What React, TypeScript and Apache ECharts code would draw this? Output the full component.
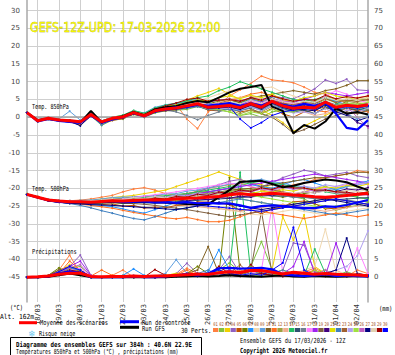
import React, { useEffect, useRef } from 'react';
import * as echarts from 'echarts';

const TIMES = ['17/03 12', '18/03 00', '18/03 12', '19/03 00', '19/03 12', '20/03 00', '20/03 12', '21/03 00', '21/03 12', '22/03 00', '22/03 12', '23/03 00', '23/03 12', '24/03 00', '24/03 12', '25/03 00', '25/03 12', '26/03 00', '26/03 12', '27/03 00', '27/03 12', '28/03 00', '28/03 12', '29/03 00', '29/03 12', '30/03 00', '30/03 12', '31/03 00', '31/03 12', '01/04 00', '01/04 12', '02/04 00', '02/04 12'];

const LEFT_TICKS = [-45, -40, -35, -30, -25, -20, -15, -10, -5, 0, 5, 10, 15, 20, 25, 30];
const RIGHT_TICKS = [0, 5, 10, 15, 20, 25, 30, 35, 40, 45, 50, 55, 60, 65, 70, 75];
const ZERO_LINE = [0];

const T850_MEAN = [1.3, -1.0, -0.3, -0.8, -1.0, -1.3, 0.8, -1.3, -0.3, 0.1, 1.3, 0.4, 1.8, 2.3, 2.6, 3.2, 3.8, 2.8, 3.0, 3.3, 2.7, 3.8, 2.8, 4.5, 3.2, 2.5, 2.8, 2.6, 4.3, 2.8, 3.4, 3.0, 3.5];
const T850_CTRL = [1.3, -1.2, -0.5, -1.0, -1.3, -1.6, 0.5, -1.5, -0.6, 0.0, 1.2, 0.3, 1.6, 2.4, 2.8, 3.0, 3.5, 3.3, 3.6, 4.0, 3.2, 3.9, 3.3, 4.4, 3.5, 3.0, 3.8, 3.2, 4.2, 1.0, -3.0, -3.5, -0.8];
const T850_GFS = [1.3, -0.8, -0.5, -0.9, -1.2, -1.5, 1.8, -1.4, -0.5, 0.3, 1.5, 0.6, 2.2, 2.8, 3.2, 4.0, 4.6, 4.2, 5.5, 7.0, 8.0, 8.5, 9.1, 3.0, 1.8, -4.5, -2.2, -3.2, -1.2, 2.5, 1.0, 1.5, 0.8];

const T850_PERTS: number[][] = [
  [1.2, -0.9, -0.2, -0.6, -0.9, -1.5, 0.6, -1.0, 0.0, 0.5, 1.6, 0.9, 2.4, 3.0, 3.6, -0.5, -3.2, 1.5, 3.5, 6.0, 7.7, 9.5, 11.6, 10.5, 10.2, 9.7, 8.5, 7.0, 6.5, 5.0, 4.2, 5.5, 6.0],
  [1.4, -1.1, -0.4, -0.9, -1.2, -1.6, 0.4, -2.3, -0.8, -0.5, 0.8, 0.0, 1.2, 1.8, 2.0, 2.2, 3.0, 2.5, 2.0, 1.5, 0.5, 1.0, 0.0, 1.5, 2.0, 1.8, 2.5, 3.5, 5.0, 4.5, 3.0, 2.0, 2.5],
  [1.3, -1.0, -0.1, -0.7, -0.8, -1.1, 1.0, -1.2, -0.1, 0.4, 1.5, 0.8, 2.2, 3.0, 3.5, 4.8, 6.0, 7.0, 8.1, 6.5, 5.0, 4.0, 2.0, 0.5, -1.5, -4.0, -2.5, -1.0, 0.5, 2.0, 3.5, 4.0, 3.0],
  [1.3, -0.8, -0.3, -0.8, -1.1, -1.2, 0.9, -1.4, -0.4, 0.2, 1.4, 0.5, 2.0, 2.6, 3.0, 3.8, 4.5, 4.2, 4.8, 5.2, 4.6, 5.5, 5.0, 6.0, 5.5, 5.2, 6.5, 8.0, 10.5, 9.5, 10.7, 7.7, 7.5],
  [1.2, -1.2, -0.5, -1.0, -1.3, -2.2, 0.3, -1.8, -0.9, -0.4, 0.9, 0.1, 1.5, 1.9, 2.2, 2.8, 3.2, 2.0, 1.8, 2.5, 1.5, 2.0, 1.0, 2.5, 1.0, 0.0, 1.5, 2.0, 3.0, 1.5, 2.5, 1.8, 2.2],
  [1.3, -1.0, -0.2, -0.7, -1.0, -1.3, 0.7, -1.2, -0.2, 0.3, 1.2, 0.6, 1.9, 2.5, 2.9, 3.5, 4.2, 3.8, 4.5, 5.0, 4.0, 5.2, 4.5, 5.5, 4.0, 3.0, 2.0, 1.0, 2.5, 3.0, 4.5, 5.0, 4.8],
  [1.3, -1.1, -0.4, -0.9, -0.8, -1.0, 1.1, -1.0, 0.0, 0.4, 1.7, 1.0, 2.5, 3.3, 3.8, 4.5, 5.0, 4.0, 3.5, 4.2, 3.8, 5.0, 4.2, 5.8, 5.0, 4.5, 5.5, 4.0, 5.5, 4.5, 3.5, 2.5, 1.5],
  [1.2, -0.9, -0.3, -0.8, -1.0, -1.4, 0.6, -1.3, -0.3, 0.0, 1.1, 0.3, 1.7, 2.2, 2.7, 3.6, 4.5, 5.5, 6.5, 7.5, 8.0, 8.6, 8.2, 8.5, 7.0, 6.0, 5.0, 4.5, 5.0, 4.0, 3.5, 4.0, 4.5],
  [1.4, -0.7, 0.0, -0.5, 1.7, -0.8, 1.2, -1.1, -0.2, 0.5, 1.8, 1.2, 2.8, 3.5, 4.0, 4.2, 4.8, 3.0, 2.5, 3.0, 2.2, 3.5, 2.5, 4.0, 3.0, 2.0, 3.0, 2.5, 4.0, 2.0, 1.0, -0.5, 0.5],
  [1.3, -1.0, -0.3, -0.8, -1.1, -1.4, 0.7, -1.3, -0.4, 0.1, 1.3, 0.5, 1.8, 2.4, 2.8, 3.4, 4.0, 3.5, 4.0, 4.8, 4.2, 5.5, 6.0, 6.5, 7.0, 7.5, 7.0, 6.5, 7.5, 8.0, 9.0, 10.3, 10.3],
  [1.2, -1.1, -0.4, -0.9, -1.2, -1.5, 0.5, -1.5, -0.5, -0.2, 1.0, 0.2, 1.6, 2.0, 2.4, 3.0, 3.5, 3.0, 3.8, 4.5, 5.5, 6.5, 7.0, 6.0, 5.0, 4.0, 3.0, 2.0, 1.5, 2.5, 3.0, 2.0, 1.5],
  [1.3, -0.9, -0.2, -0.7, -0.9, -1.2, 0.8, -1.2, -0.2, 0.2, 1.4, 0.6, 2.0, 2.6, 3.1, 3.9, 4.4, 3.2, 2.8, 2.0, 1.0, 2.0, 1.5, 3.0, 2.5, 2.0, 3.5, 4.5, 6.0, 5.0, 4.5, 4.0, 3.5],
  [1.3, -1.0, -0.3, -0.8, -1.0, -1.3, 0.8, -1.2, -0.3, 0.2, 1.3, 0.4, 1.9, 2.4, 2.6, 3.0, 3.6, 3.3, 4.2, 5.0, 5.5, 6.0, 5.0, 4.5, 3.5, 2.5, 1.5, 0.5, 1.0, 2.0, 2.5, 3.0, 3.8],
  [1.4, -0.8, -0.1, -0.6, -0.9, -1.2, 1.0, -1.1, 0.0, 0.6, 1.9, 1.1, 2.6, 3.4, 3.9, 4.6, 5.5, 6.0, 7.5, 8.5, 10.0, 9.0, 8.0, 7.0, 6.0, 5.0, 4.5, 5.0, 5.5, 4.0, 3.0, 2.5, 2.0],
  [1.2, -1.1, -0.4, -0.9, -1.1, -1.4, 0.6, -1.4, -0.5, -0.1, 1.1, 0.2, 1.6, 2.1, 2.3, 2.8, 3.4, 2.6, 2.9, 3.2, 2.5, 3.2, 2.2, 3.8, 2.5, 1.5, 2.0, 1.0, 2.8, 1.8, 2.6, 2.0, 2.8],
  [1.3, -1.0, -0.3, -0.8, -1.0, -1.3, 0.7, -1.3, -0.4, 0.0, 1.2, 0.3, 1.6, 2.0, 1.5, 0.5, -0.7, 0.5, 1.5, 2.5, 2.0, 3.0, 2.5, 3.5, 3.0, 2.8, 3.2, 3.0, 4.5, 3.5, 4.0, 3.5, 4.0],
  [1.3, -0.9, -0.2, -0.8, -1.0, -1.2, 0.9, -1.2, -0.2, 0.3, 1.5, 0.6, 2.1, 2.7, 3.2, 3.7, 4.2, 3.6, 3.8, 4.0, 3.5, 4.5, 3.8, 5.0, 4.2, 3.8, 4.0, 3.5, 6.0, 7.5, 6.5, 5.0, 4.0],
  [1.2, -1.0, -0.3, -0.8, -1.0, -1.4, 0.6, -1.4, -0.4, 0.0, 1.2, 0.3, 1.7, 2.2, 2.5, 3.0, 3.6, 2.9, 3.4, 3.9, 3.5, 4.8, 4.2, 5.2, 4.5, 4.2, 5.0, 6.0, 7.0, 6.5, 6.0, 6.5, 7.0],
  [1.3, -1.1, -0.4, -0.9, -1.2, -1.5, 0.5, -1.6, -0.6, -0.3, 0.9, 0.0, 1.4, 1.8, 2.1, 2.6, 3.1, 2.3, 2.5, 2.8, 2.0, 2.5, 1.0, 0.0, -2.0, -4.5, -3.5, -2.0, -0.5, 0.5, 1.5, 1.0, 2.0],
  [1.3, -1.0, -0.3, -0.8, -1.0, -1.3, 0.8, -1.3, -0.3, 0.1, 1.3, 0.5, 1.8, 2.3, 2.7, 3.3, 3.9, 3.0, 3.3, 3.6, 3.0, 4.0, 3.2, 4.6, 3.6, 3.0, 3.5, 3.0, 4.0, 2.5, 1.0, -1.5, -2.5],
  [1.4, -0.9, -0.2, -0.7, -0.9, -1.1, 1.0, -1.1, -0.1, 0.4, 1.6, 0.8, 2.3, 2.9, 3.4, 4.2, 4.9, 4.5, 5.5, 6.0, 5.2, 6.2, 5.5, 6.5, 5.0, 4.5, 5.5, 6.0, 7.0, 6.0, 5.5, 5.0, 5.5],
  [1.2, -1.1, -0.4, -0.9, -1.1, -1.4, 0.6, -2.2, -0.5, -0.1, 1.0, 0.2, 1.5, 2.0, 2.2, 2.6, 3.0, 2.2, 2.0, 2.2, 1.8, 2.8, 2.0, 3.2, 2.5, 2.2, 2.6, 2.2, 3.5, 2.2, 2.8, 2.5, 3.0],
  [1.3, -1.0, -0.3, -0.8, -1.0, -1.3, 0.7, -1.3, -0.3, 0.1, 1.3, 0.4, 1.8, 2.3, 2.6, 3.2, 3.8, 3.2, 3.6, 4.0, 3.3, 4.2, 3.5, 4.8, 4.0, 3.5, 4.2, 3.8, 5.2, 4.2, 4.8, 4.4, 5.0],
  [1.3, -0.9, -0.2, -0.7, -1.0, -1.2, 0.9, -1.2, -0.2, 0.2, 1.4, 0.5, 2.0, 2.5, 2.8, 3.3, 3.7, 2.6, 2.4, 2.6, 2.0, 3.0, 1.8, 3.2, 2.0, 1.2, 1.5, 1.0, 2.5, 1.0, 2.0, 1.5, 2.5],
  [1.2, -1.0, -0.4, -0.9, -1.1, -1.4, 0.6, -1.5, -0.5, -0.1, 1.1, 0.3, 1.6, 2.1, 2.4, 2.9, 3.3, 2.4, 2.2, 1.5, 0.5, 1.5, 1.0, 2.2, 1.5, 1.5, 2.5, 2.8, 3.8, 3.2, 4.0, 3.6, 4.2],
  [1.3, -1.0, -0.3, -0.8, -1.0, -1.3, 0.8, -1.3, -0.3, 0.1, 1.3, 0.4, 1.8, 2.3, 2.6, 3.1, 3.6, 2.7, 2.9, 3.2, 2.6, 3.6, 2.6, 4.2, 3.0, 2.3, 2.6, 2.4, 4.0, 2.6, 3.0, 0.0, -3.0],
  [1.3, -1.1, -0.4, -0.9, -1.1, -2.4, 0.5, -1.5, -0.5, -0.2, 1.0, 0.2, 1.5, 2.0, 2.3, 2.8, 3.5, 2.5, 2.6, 2.9, 2.2, 3.4, 2.4, 4.0, 2.8, 2.0, 2.2, 1.8, 3.5, 1.5, 0.5, -1.0, 0.0],
  [1.3, -0.9, -0.2, -0.7, -0.9, -1.2, 0.9, -1.2, -0.2, 0.2, 1.4, 0.6, 2.0, 2.5, 3.0, 3.6, 4.2, 3.5, 3.8, 4.3, 3.8, 4.8, 4.0, 5.2, 4.4, 4.0, 4.5, 4.2, 5.5, 4.8, 5.2, 5.0, 5.5],
  [1.3, -1.0, -0.2, -0.7, -0.9, -1.2, 0.8, -1.2, -0.2, 0.3, 1.5, 0.7, 2.3, 3.2, 4.0, 5.0, 5.4, 4.5, 4.8, 5.0, 4.5, 5.5, 4.8, 6.0, 5.2, 4.5, 5.0, 4.8, 6.2, 5.2, 5.8, 5.4, 6.0],
  [1.2, -1.0, -0.3, -0.8, -1.0, -1.4, 0.7, -1.4, -0.4, 0.0, 1.2, 0.3, 1.7, 2.1, 2.4, 2.9, 3.4, 2.6, 2.8, 3.0, -0.5, -3.0, -1.5, 0.5, 1.5, 2.0, 2.5, 2.2, 3.8, 2.4, 3.0, 2.6, 3.2],
];

const T500_MEAN = [-21.7, -22.5, -23.3, -23.6, -23.8, -23.8, -23.9, -23.7, -23.5, -23.6, -23.4, -23.3, -23.3, -23.2, -23.0, -22.8, -22.7, -22.5, -22.3, -21.8, -21.5, -21.8, -21.7, -21.4, -21.6, -21.9, -22.1, -22.4, -22.5, -22.3, -22.0, -21.7, -21.4];
const T500_CTRL = [-21.8, -22.6, -23.4, -23.8, -24.0, -23.8, -24.0, -23.8, -23.6, -23.9, -23.8, -23.7, -24.0, -23.9, -24.1, -23.9, -24.2, -24.1, -24.3, -24.2, -24.8, -25.5, -25.0, -24.8, -25.0, -25.3, -25.6, -25.6, -25.1, -25.2, -24.7, -24.0, -23.3];
const T500_GFS = [-21.7, -22.5, -23.4, -23.8, -24.0, -24.0, -24.1, -23.9, -23.8, -24.0, -23.9, -23.8, -23.9, -24.0, -24.2, -24.4, -24.5, -24.5, -22.5, -20.5, -18.2, -18.0, -17.9, -18.8, -19.7, -19.3, -18.5, -18.0, -17.5, -17.8, -18.3, -19.5, -20.5];

const T500_PERTS: number[][] = [
  [-21.8, -22.4, -23.2, -23.4, -23.5, -23.3, -23.0, -22.5, -22.0, -21.0, -20.2, -19.8, -20.5, -21.5, -22.0, -21.5, -20.8, -20.0, -19.5, -19.0, -18.5, -19.5, -20.5, -21.0, -20.0, -19.0, -18.5, -17.5, -17.0, -16.5, -16.0, -15.0, -15.5],
  [-21.7, -22.6, -23.4, -23.8, -24.0, -24.2, -24.3, -24.0, -23.8, -24.3, -23.6, -23.9, -23.0, -22.8, -21.8, -21.9, -20.8, -20.9, -21.3, -21.0, -20.3, -20.5, -19.5, -20.6, -21.0, -22.4, -23.0, -24.5, -25.0, -26.2, -25.3, -24.8, -24.0],
  [-21.6, -22.4, -23.2, -23.5, -23.6, -23.5, -23.4, -23.0, -22.6, -22.3, -22.0, -21.5, -21.0, -20.5, -19.5, -18.5, -17.5, -16.5, -15.4, -16.5, -17.5, -18.5, -19.0, -20.0, -21.0, -22.0, -21.0, -20.0, -19.5, -20.5, -21.5, -22.5, -23.0],
  [-21.7, -22.5, -23.3, -23.6, -23.9, -24.0, -24.1, -23.9, -23.6, -23.5, -23.2, -23.0, -22.7, -22.4, -22.0, -21.5, -21.0, -20.0, -19.0, -18.0, -17.5, -18.5, -19.5, -18.5, -17.0, -16.0, -14.9, -15.5, -16.5, -16.0, -15.5, -16.5, -17.0],
  [-21.8, -22.6, -23.4, -23.7, -24.0, -24.1, -24.3, -24.6, -24.4, -25.0, -24.8, -25.6, -25.3, -25.5, -24.8, -24.8, -23.8, -23.9, -24.2, -24.6, -26.2, -26.0, -27.2, -25.8, -25.2, -23.8, -23.6, -24.3, -25.8, -25.6, -25.3, -23.8, -23.6],
  [-21.7, -22.5, -23.2, -23.5, -23.7, -23.6, -23.6, -23.4, -23.0, -22.8, -22.5, -22.3, -22.0, -22.3, -22.6, -22.0, -21.5, -21.0, -20.5, -20.0, -20.5, -21.0, -21.5, -22.0, -22.5, -22.0, -21.5, -21.0, -20.5, -21.0, -21.5, -22.0, -21.5],
  [-21.8, -22.6, -23.4, -23.8, -24.1, -24.3, -24.6, -24.8, -25.2, -25.8, -26.5, -27.0, -26.0, -25.0, -24.0, -23.0, -22.0, -21.0, -20.5, -20.0, -19.5, -19.0, -19.5, -20.0, -19.0, -18.0, -17.5, -18.5, -19.5, -20.5, -19.5, -18.5, -18.0],
  [-21.7, -22.5, -23.3, -23.7, -23.9, -23.9, -24.0, -23.8, -23.6, -23.9, -23.6, -23.8, -23.6, -24.1, -24.0, -24.6, -24.6, -25.3, -25.5, -26.3, -26.5, -27.3, -27.5, -27.0, -26.5, -26.0, -26.5, -27.0, -27.5, -27.0, -26.5, -26.0, -25.5],
  [-21.6, -22.4, -23.1, -23.4, -23.5, -23.4, -23.3, -23.0, -22.6, -22.5, -22.4, -22.2, -22.0, -21.6, -21.5, -20.8, -20.5, -19.8, -19.5, -18.8, -18.5, -17.8, -17.5, -18.2, -18.5, -19.3, -19.5, -20.3, -20.5, -20.0, -19.5, -19.0, -18.5],
  [-21.7, -22.5, -23.3, -23.6, -23.8, -23.8, -23.9, -23.8, -23.6, -23.7, -23.5, -23.4, -23.3, -23.0, -22.6, -22.2, -21.8, -21.4, -21.0, -20.6, -20.2, -20.0, -19.5, -19.0, -18.5, -18.0, -17.5, -17.0, -17.0, -16.5, -16.0, -15.5, -15.5],
  [-21.8, -22.6, -23.5, -23.9, -24.2, -24.5, -24.8, -25.2, -25.6, -26.2, -26.8, -27.3, -27.8, -28.3, -28.6, -28.2, -28.8, -29.4, -29.4, -29.0, -28.0, -27.0, -26.5, -27.0, -27.5, -28.0, -28.5, -28.0, -27.5, -27.0, -27.5, -28.0, -27.5],
  [-21.7, -22.4, -23.2, -23.5, -23.7, -23.7, -23.8, -23.6, -23.4, -23.3, -23.1, -22.9, -22.6, -22.2, -21.8, -21.5, -21.2, -21.5, -22.0, -22.5, -23.0, -23.5, -24.0, -24.5, -25.0, -24.5, -24.0, -23.5, -23.0, -22.5, -22.0, -21.5, -21.0],
  [-21.7, -22.5, -23.3, -23.6, -23.8, -23.9, -24.0, -23.9, -23.8, -23.9, -23.8, -23.8, -23.9, -24.2, -24.5, -24.8, -25.2, -25.5, -25.8, -26.0, -26.5, -26.0, -25.5, -25.0, -24.5, -25.0, -25.5, -26.0, -26.5, -26.0, -25.5, -25.0, -24.5],
  [-21.6, -22.4, -23.2, -23.5, -23.7, -23.6, -23.5, -23.3, -23.1, -23.0, -22.8, -22.6, -22.4, -22.1, -21.8, -21.5, -21.0, -20.5, -20.0, -19.5, -19.0, -18.5, -18.0, -18.5, -19.0, -19.5, -20.0, -20.5, -21.0, -21.5, -22.0, -22.5, -23.0],
  [-21.7, -22.5, -23.3, -23.7, -23.9, -24.0, -24.1, -24.0, -23.9, -24.0, -24.0, -24.1, -24.2, -24.0, -23.8, -23.6, -23.4, -23.2, -23.0, -22.8, -22.6, -22.4, -22.2, -22.0, -22.2, -22.4, -22.6, -22.8, -23.0, -23.2, -23.0, -22.8, -22.6],
  [-21.8, -22.6, -23.4, -23.7, -23.9, -24.0, -24.0, -23.8, -23.5, -23.6, -23.0, -23.2, -22.5, -22.6, -22.0, -22.2, -21.6, -21.8, -21.2, -21.4, -21.2, -21.9, -21.6, -22.3, -22.0, -22.6, -22.4, -23.0, -22.8, -23.4, -23.2, -23.8, -23.6],
  [-21.7, -22.5, -23.3, -23.6, -23.8, -23.8, -23.7, -23.5, -23.2, -23.0, -22.6, -22.2, -21.8, -21.4, -21.0, -20.5, -20.0, -19.5, -19.0, -18.5, -19.0, -19.5, -20.0, -20.5, -21.0, -21.5, -21.0, -20.5, -20.0, -19.5, -19.0, -18.5, -19.0],
  [-21.7, -22.5, -23.4, -23.8, -24.0, -24.1, -24.2, -24.1, -24.0, -23.9, -23.7, -23.5, -23.2, -22.8, -22.4, -22.0, -21.5, -21.0, -20.5, -20.0, -19.5, -19.0, -18.5, -18.0, -17.5, -17.0, -16.5, -16.0, -16.5, -17.0, -17.5, -18.0, -18.5],
  [-21.8, -22.6, -23.4, -23.8, -24.1, -24.2, -24.3, -24.2, -24.1, -24.2, -24.3, -24.5, -24.8, -25.2, -25.6, -26.0, -26.5, -27.0, -27.5, -28.0, -27.5, -27.0, -26.5, -26.0, -25.5, -25.0, -24.5, -24.0, -23.5, -23.0, -23.5, -24.0, -24.5],
  [-21.7, -22.5, -23.3, -23.6, -23.8, -23.9, -24.0, -23.9, -23.7, -24.1, -23.7, -24.0, -23.5, -23.8, -23.3, -23.6, -23.0, -23.2, -22.6, -22.8, -22.2, -22.5, -21.8, -22.0, -21.4, -21.7, -21.0, -21.3, -20.6, -20.9, -20.2, -20.5, -19.8],
  [-21.6, -22.4, -23.2, -23.5, -23.7, -23.7, -23.6, -23.4, -23.2, -23.5, -23.0, -23.3, -22.8, -22.9, -22.4, -22.6, -22.0, -22.3, -21.6, -21.8, -21.2, -21.5, -20.8, -21.2, -20.4, -20.8, -20.0, -20.4, -19.6, -19.9, -19.2, -19.5, -18.8],
  [-21.8, -22.6, -23.5, -23.9, -24.3, -24.8, -25.5, -26.3, -27.0, -27.8, -28.5, -28.9, -28.0, -27.0, -26.0, -25.5, -25.0, -24.5, -24.0, -23.5, -23.0, -23.5, -24.0, -24.5, -25.0, -25.5, -26.0, -26.5, -27.0, -27.5, -27.0, -26.5, -26.0],
  [-21.7, -22.5, -23.3, -23.6, -23.8, -23.8, -23.9, -23.7, -23.5, -23.6, -23.4, -23.3, -23.3, -23.2, -23.0, -22.8, -22.7, -22.5, -22.0, -21.5, -21.0, -20.5, -20.0, -20.5, -21.0, -21.5, -22.0, -22.5, -23.0, -22.5, -22.0, -21.5, -21.0],
  [-21.7, -22.5, -23.2, -23.5, -23.6, -23.6, -23.5, -23.3, -23.0, -23.2, -22.6, -22.9, -22.2, -22.5, -21.8, -22.1, -21.4, -21.8, -21.0, -21.5, -20.6, -21.0, -20.2, -20.6, -19.8, -20.3, -19.4, -19.9, -19.0, -19.5, -18.6, -19.0, -18.2],
  [-21.7, -22.5, -23.4, -23.7, -24.0, -24.1, -24.2, -24.1, -24.0, -24.1, -24.0, -23.9, -23.8, -23.6, -23.4, -23.0, -22.5, -22.0, -21.5, -21.0, -21.5, -22.0, -22.5, -23.0, -23.5, -24.0, -24.5, -25.0, -25.5, -25.0, -24.5, -24.0, -23.5],
  [-21.7, -22.4, -23.2, -23.5, -23.7, -23.7, -23.7, -23.5, -23.3, -23.6, -23.1, -23.4, -22.9, -23.1, -22.5, -22.7, -21.9, -22.2, -21.3, -21.6, -20.7, -21.0, -20.1, -20.5, -19.5, -20.2, -20.1, -20.8, -20.7, -21.3, -21.3, -21.9, -21.9],
  [-21.8, -22.6, -23.5, -23.9, -24.2, -24.4, -24.6, -24.7, -24.8, -25.0, -25.2, -25.4, -25.6, -25.8, -26.0, -25.5, -25.0, -24.5, -24.0, -24.5, -25.0, -25.5, -26.0, -25.5, -25.0, -24.5, -24.0, -23.5, -23.0, -23.5, -24.0, -24.5, -25.0],
  [-21.7, -22.5, -23.3, -23.6, -23.8, -23.7, -23.6, -23.3, -23.0, -23.2, -22.6, -22.9, -22.4, -22.7, -22.2, -22.5, -22.0, -22.3, -21.8, -22.1, -21.6, -21.9, -21.4, -21.7, -21.2, -21.5, -21.0, -21.3, -20.8, -21.1, -20.6, -20.9, -20.4],
  [-21.7, -22.5, -23.3, -23.6, -23.8, -23.8, -23.9, -23.7, -23.5, -23.7, -23.2, -23.4, -22.8, -23.0, -22.3, -22.5, -21.7, -22.0, -21.1, -21.4, -20.5, -20.9, -19.9, -20.3, -19.3, -19.9, -19.9, -20.5, -20.5, -21.0, -21.1, -21.5, -21.7],
  [-21.8, -22.6, -23.4, -23.8, -24.0, -24.0, -24.1, -23.9, -23.7, -23.8, -23.7, -23.7, -23.8, -24.0, -24.2, -24.5, -24.8, -25.0, -25.3, -25.6, -25.9, -26.2, -26.5, -26.0, -25.5, -25.0, -24.5, -24.0, -23.5, -23.0, -23.5, -24.0, -24.5],
];

const PREC_MEAN = [0, 0.1, 0.3, 0.8, 1.1, 1.1, 0.2, 0.1, 0.2, 0.2, 0.3, 0.2, 0.3, 0.3, 0.5, 0.7, 0.8, 0.8, 1.2, 1.5, 1.3, 1.9, 1.9, 1.4, 0.9, 1.4, 1.1, 0.8, 1.0, 0.8, 0.7, 0.6, 0.4];
const PREC_CTRL = [0, 0, 0.2, 1.0, 1.6, 1.2, 0, 0, 0, 0, 0.2, 0, 0, 0.2, 0.5, 0.8, 0.5, 1.0, 2.5, 2.6, 2.4, 2.5, 2.6, 2.2, 0.8, 0.5, 0.3, 0.5, 0.8, 0.3, 0.5, 0.3, 0.2];
const PREC_GFS = [0, 0, 0.1, 0.5, 1.0, 0.5, 0, 0, 0, 0, 0, 0, 0, 0, 0.1, 0.2, 0.3, 0.2, 0.3, 0.5, 0.3, 0.2, 0.1, 0.3, 0.5, 0.2, 0.1, 0.3, 0.2, 0.1, 0.2, 0.3, 0.2];

const PREC_PERTS: number[][] = [
  [0, 0, 0.5, 2.0, 6.2, 1.0, 0.2, 0, 0.5, 2.0, 0, 0, 0, 0.3, 0.8, 2.5, 1.0, 0.5, 1.5, 3.0, 1.0, 0.5, 2.0, 1.0, 0.5, 0.3, 1.5, 2.5, 1.0, 0.5, 0.2, 2.0, 1.0],
  [0, 0, 0.2, 1.0, 2.5, 3.0, 0.5, 0, 0, 0, 0.3, 0, 0, 0, 0.5, 1.0, 0.5, 1.0, 2.0, 4.0, 1.5, 3.0, 10.0, 2.0, 1.0, 0.5, 0.5, 1.0, 2.0, 0.5, 1.5, 0.5, 0.3],
  [0, 0, 0.3, 1.5, 3.5, 2.0, 0, 0, 0, 0.5, 0, 0, 0, 0.5, 1.0, 0.5, 0.3, 0.5, 1.0, 0.5, 0.3, 0.5, 1.0, 2.0, 17.0, 10.4, 17.5, 3.0, 1.0, 0.5, 0.3, 0.5, 0.2],
  [0, 0, 0.2, 1.0, 3.0, 6.2, 0.5, 0, 0, 0.2, 0.5, 0, 0, 0, 1.0, 3.9, 1.0, 0.5, 2.0, 5.8, 1.0, 0.5, 1.5, 1.0, 2.0, 9.6, 9.0, 1.5, 0.5, 0.5, 0.3, 1.0, 0.5],
  [0, 0, 0.2, 1.5, 2.0, 1.5, 0, 0, 0.3, 0, 0, 0, 0, 0.2, 0.5, 0.3, 0.5, 1.0, 1.0, 0.5, 2.0, 1.0, 0.5, 0.3, 0.5, 1.0, 0.5, 2.0, 0.5, 0.3, 1.0, 0.5, 0.2],
  [0, 0, 0.5, 2.6, 1.0, 0.5, 0, 0, 0, 0, 0, 0, 0, 0.3, 0.5, 1.0, 3.0, 1.0, 0.5, 28.0, 1.5, 0.5, 0.5, 0.5, 1.0, 0.5, 0.3, 0.5, 1.0, 0.5, 0.3, 0.2, 0.3],
  [0, 0, 0.3, 1.0, 2.0, 1.5, 0.3, 0, 0, 0.5, 2.3, 0.5, 0, 0, 0.5, 1.0, 0.5, 1.5, 7.7, 2.0, 1.0, 0.5, 1.5, 2.0, 0.5, 1.0, 0.5, 0.3, 1.0, 0.5, 0.5, 0.3, 0.5],
  [0, 0, 0.3, 1.5, 2.5, 1.0, 0, 0, 0, 0, 0.2, 0, 0, 0, 0.3, 0.5, 0.8, 0.5, 1.0, 1.5, 0.5, 1.0, 2.0, 1.0, 0.5, 1.0, 2.0, 3.0, 13.5, 1.5, 0.5, 1.0, 0.5],
  [0, 0, 0.2, 1.0, 2.0, 1.5, 0, 0, 0, 0, 0, 0, 0.3, 1.0, 4.9, 1.0, 0.5, 0.3, 1.0, 0.5, 0.5, 1.0, 0.5, 0.3, 0.5, 1.0, 0.5, 0.3, 0.5, 1.0, 0.5, 0.3, 0.2],
  [0, 0, 0.3, 2.0, 3.0, 1.5, 0, 0, 0, 0, 0, 0, 0, 0.3, 0.5, 1.0, 2.0, 8.6, 1.0, 0.5, 1.0, 2.5, 1.0, 0.5, 0.3, 0.5, 1.0, 0.5, 0.3, 0.5, 1.0, 0.5, 0.3],
  [0, 0, 0.2, 1.0, 4.5, 2.0, 0.3, 2.0, 0.5, 0, 0, 0, 0, 0.2, 0.5, 2.0, 0.5, 0.3, 1.0, 0.5, 0.3, 0.5, 1.5, 0.5, 0.3, 0.5, 1.0, 2.0, 0.5, 0.3, 0.5, 1.0, 0.5],
  [0, 0, 0.2, 1.5, 2.5, 1.0, 0, 0, 0, 0, 0, 0, 0, 0, 0.3, 0.5, 1.0, 0.5, 2.0, 1.0, 0.5, 1.0, 0.5, 0.3, 0.5, 0.3, 0.5, 1.0, 0.5, 0.3, 0.2, 0.5, 0.3],
  [0, 0, 0.3, 1.0, 2.0, 1.0, 0.5, 0, 0, 0, 0, 0, 0, 0.2, 0.5, 0.3, 0.5, 1.0, 0.5, 1.0, 2.0, 1.5, 0.5, 0.3, 1.0, 0.5, 0.3, 0.5, 1.0, 2.0, 0.5, 0.3, 0.2],
  [0, 0, 0.3, 1.0, 2.5, 2.0, 0, 0, 0, 0, 0, 0, 0, 0.3, 0.5, 1.0, 0.5, 0.5, 1.0, 2.0, 29.5, 1.2, 0.5, 0.5, 0.3, 1.0, 0.5, 7.9, 1.0, 0.5, 0.3, 0.5, 0.3],
  [0, 0, 0.2, 0.5, 1.5, 1.0, 0, 0, 0, 0, 0, 0, 0, 0, 0.3, 0.5, 0.3, 0.5, 1.0, 0.5, 1.0, 0.5, 0.3, 0.5, 1.0, 0.5, 0.3, 0.5, 1.0, 0.5, 0.3, 0.2, 0.3],
  [0, 0, 0.3, 1.0, 1.5, 1.0, 0, 0, 0, 0, 0, 0, 0, 0, 0.5, 0.3, 0.5, 1.0, 0.5, 0.3, 1.0, 0.5, 2.0, 0.5, 0.3, 0.5, 1.0, 0.5, 0.3, 0.5, 0.3, 0.5, 0.2],
  [0, 0, 0.2, 1.0, 2.0, 2.5, 0.3, 0, 0, 0, 0, 0, 0, 0, 0.3, 0.5, 1.0, 0.5, 0.5, 1.0, 0.5, 1.0, 2.0, 20.0, 1.5, 0.5, 0.3, 0.5, 1.0, 0.5, 1.0, 8.2, 1.0],
  [0, 0, 0.2, 1.5, 3.0, 4.5, 0.5, 0, 0, 0, 0, 0, 0, 0.2, 0.5, 1.0, 0.5, 0.3, 1.0, 2.0, 0.5, 1.0, 0.5, 0.3, 1.0, 3.0, 10.0, 1.0, 0.5, 9.6, 1.0, 0.5, 0.3],
  [0, 0, 0.5, 2.0, 1.5, 1.0, 0, 0, 0, 0, 0, 0, 0, 0.2, 0.5, 0.3, 1.0, 0.5, 0.3, 1.0, 0.5, 2.0, 18.5, 1.0, 0.5, 0.3, 0.5, 1.0, 0.5, 0.3, 0.5, 0.3, 0.2],
  [0, 0, 0.2, 1.0, 1.5, 1.0, 0, 0, 0, 0, 0, 0, 0, 0, 0.3, 0.5, 0.3, 0.5, 1.0, 0.5, 0.3, 0.5, 1.0, 0.5, 0.3, 0.5, 0.3, 0.5, 1.0, 0.5, 0.3, 0.5, 0.2],
  [0, 0, 0.3, 1.0, 2.0, 1.5, 0, 0, 0, 0, 0, 0, 0, 0.5, 1.0, 0.5, 0.3, 0.5, 1.0, 0.5, 0.3, 0.5, 0.3, 1.0, 2.0, 0.5, 0.3, 0.5, 1.0, 0.5, 0.3, 0.2, 0.3],
  [0, 0, 0.2, 1.5, 2.5, 2.0, 0, 0, 0, 0, 0, 0, 0, 0, 0.3, 0.5, 1.0, 2.0, 0.5, 1.0, 0.5, 0.3, 0.5, 1.0, 2.0, 1.0, 0.5, 0.3, 0.5, 1.0, 0.5, 0.3, 0.5],
  [0, 0, 0.3, 1.0, 2.0, 1.0, 0, 0, 0, 0, 0, 0, 0, 0.2, 0.5, 1.0, 0.5, 0.3, 0.5, 1.0, 3.5, 0.5, 1.0, 0.5, 0.3, 0.5, 1.0, 0.5, 0.3, 0.5, 1.0, 0.5, 0.3],
  [0, 0, 0.2, 1.0, 2.0, 1.5, 0, 0, 0, 0, 0, 0, 0, 0, 0.3, 0.5, 0.3, 0.5, 1.0, 0.5, 0.3, 1.0, 0.5, 0.3, 0.5, 1.0, 0.5, 0.3, 1.0, 2.0, 3.0, 6.0, 13.0],
  [0, 0, 0.3, 1.0, 1.5, 1.0, 0, 0, 0, 0, 0, 0, 0, 0.2, 0.3, 0.5, 0.3, 1.0, 2.0, 0.5, 1.0, 0.5, 0.3, 0.5, 1.0, 0.5, 0.3, 2.0, 0.5, 0.3, 0.5, 0.3, 0.2],
  [0, 0, 0.2, 1.5, 2.5, 3.5, 0.3, 0, 0, 0, 0, 0, 0, 0.2, 0.5, 1.0, 0.5, 0.3, 1.0, 0.5, 0.3, 0.5, 1.0, 0.5, 0.3, 0.5, 1.0, 0.5, 2.0, 0.5, 0.3, 0.5, 0.3],
  [0, 0, 0.2, 1.0, 1.5, 1.0, 0, 0, 0, 0, 0, 0, 0, 0, 0.3, 0.5, 0.3, 0.5, 1.0, 0.5, 0.3, 0.5, 1.0, 0.5, 0.3, 0.5, 0.3, 0.5, 1.0, 2.0, 11.0, 1.0, 0.5],
  [0, 0, 0.3, 1.0, 2.0, 1.0, 0, 0, 0, 0, 0, 0, 0, 0.2, 0.5, 0.3, 0.5, 1.0, 0.5, 0.3, 0.5, 1.0, 0.5, 0.3, 0.5, 1.0, 0.5, 0.3, 0.5, 1.0, 0.5, 0.3, 0.2],
  [0, 0, 0.2, 1.0, 2.0, 1.5, 0, 0, 0, 0, 0, 0, 2.1, 0.5, 0.3, 0.5, 1.0, 0.5, 3.0, 1.0, 0.5, 3.5, 1.0, 0.5, 0.3, 0.5, 1.0, 0.5, 0.3, 0.5, 0.3, 0.5, 0.2],
  [0, 0, 0.3, 1.5, 3.0, 2.0, 0, 0, 0, 0, 0, 0, 0, 0.2, 0.5, 1.0, 0.5, 1.0, 2.0, 1.0, 0.5, 1.0, 0.5, 2.0, 4.0, 14.0, 2.0, 0.5, 1.0, 0.5, 0.3, 0.5, 0.3],
];

const PERT_COLORS = ['#ff8040', '#80c040', '#f0d000', '#9060c0', '#c05000', '#708000', '#2090ff', '#f0d8b0', '#60a0e0', '#806020', '#ff7020', '#a0a040', '#f0b090', '#20c060', '#305070', '#708090', '#ff80ff', '#a020f0', '#806040', '#400080', '#e0e000', '#4080c0', '#a06030', '#b0a0f0', '#a0e040', '#c060c0', '#000080', '#e0d0b0', '#a00000', '#0000ff'];
const PERT_LABELS = ['01', '02', '03', '04', '05', '06', '07', '08', '09', '10', '11', '12', '13', '14', '15', '16', '17', '18', '19', '20', '21', '22', '23', '24', '25', '26', '27', '28', '29', '30'];

const MONO = '"DejaVu Sans Mono", monospace';

function txt(x: number, y: number, text: string, o: any = {}) {
  return {
    type: 'text',
    x,
    y,
    scaleX: o.sx ?? 0.77,
    z: 100,
    silent: true,
    style: {
      text,
      fill: o.fill ?? '#000',
      fontSize: o.size ?? 7,
      fontFamily: o.family ?? MONO,
      fontWeight: o.bold ? 'bold' : 'normal',
      verticalAlign: 'middle',
      align: 'left',
      stroke: o.stroke,
      lineWidth: o.lw ?? 0,
    },
  };
}

export default function App() {
  const ref = useRef<HTMLDivElement>(null);
  useEffect(() => {
    if (!ref.current) return;
    const chart = echarts.init(ref.current, undefined, { renderer: 'svg' });

    const members = (rows: number[][], yAxisIndex: number) =>
      rows.map((d, k) => ({
        type: 'line',
        data: d,
        yAxisIndex,
        symbol: 'circle',
        symbolSize: 2,
        showSymbol: true,
        silent: true,
        z: 2,
        lineStyle: { width: 1, color: PERT_COLORS[k] },
        itemStyle: { color: PERT_COLORS[k] },
      }));
    const thick = (d: number[], color: string, width: number, yAxisIndex: number, z: number) => ({
      type: 'line',
      data: d,
      yAxisIndex,
      showSymbol: false,
      symbol: 'none',
      silent: true,
      z,
      lineStyle: { width, color },
    });

    const isDay = (i: number) => i % 2 === 1;

    const legendBoxes: any[] = [];
    PERT_COLORS.forEach((c, k) => {
      legendBoxes.push({
        type: 'rect',
        shape: { x: 213 + k * 5.85, y: 328, width: 5.3, height: 4 },
        style: { fill: c },
        silent: true,
        z: 100,
      });
      legendBoxes.push(txt(213.3 + k * 5.85, 324.8, PERT_LABELS[k], { size: 5, sx: 0.75, fill: '#a04a10' }));
    });

    const option: any = {
      animation: false,
      backgroundColor: '#ffffff',
      grid: { left: 27, right: 27, top: 0, bottom: 53, containLabel: false },
      xAxis: {
        type: 'category',
        data: TIMES,
        boundaryGap: false,
        axisLine: { show: false },
        axisTick: { show: false },
        axisLabel: {
          interval: (i: number) => isDay(i),
          rotate: 90,
          margin: 2,
          fontSize: 7,
          fontFamily: MONO,
          color: '#333',
          formatter: (v: string) => v.slice(0, 5),
        },
        splitLine: { show: true, interval: (i: number) => isDay(i), lineStyle: { color: '#cfcfcf', width: 1 } },
      },
      yAxis: [
        {
          type: 'value',
          min: -52,
          max: 33,
          position: 'left',
          axisLine: { show: true, lineStyle: { color: '#a8a8a8', width: 1.5 } },
          axisTick: { show: false, customValues: LEFT_TICKS },
          axisLabel: { customValues: LEFT_TICKS, fontSize: 7, fontFamily: '"DejaVu Sans"', color: '#444', margin: 7 },
          splitLine: { show: true, lineStyle: { color: '#cfcfcf', width: 1 } },
        },
        {
          type: 'value',
          min: -7,
          max: 78,
          position: 'right',
          axisLine: { show: true, lineStyle: { color: '#a8a8a8', width: 1.5 } },
          axisTick: { show: false, customValues: RIGHT_TICKS },
          axisLabel: { customValues: RIGHT_TICKS, fontSize: 7, fontFamily: '"DejaVu Sans"', color: '#444', margin: 6 },
          splitLine: { show: false },
        },
      ],
      series: [
        {
          type: 'line',
          data: [],
          yAxisIndex: 0,
          z: 1,
          silent: true,
          markLine: {
            silent: true,
            symbol: 'none',
            label: { show: false },
            lineStyle: { color: '#a0a0a0', width: 1.5, type: 'solid' },
            data: ZERO_LINE.map((v) => ({ yAxis: v })),
          },
        },
        ...members(PREC_PERTS, 1),
        ...members(T500_PERTS, 0),
        ...members(T850_PERTS, 0),
        thick(PREC_GFS, '#000000', 2, 1, 5),
        thick(PREC_CTRL, '#0000ff', 2.2, 1, 6),
        thick(PREC_MEAN, '#ff0000', 3, 1, 7),
        thick(T500_GFS, '#000000', 2, 0, 5),
        thick(T500_CTRL, '#0000ff', 2.2, 0, 6),
        thick(T500_MEAN, '#ff0000', 3, 0, 7),
        thick(T850_GFS, '#000000', 2, 0, 5),
        thick(T850_CTRL, '#0000ff', 2.2, 0, 6),
        thick(T850_MEAN, '#ff0000', 3, 0, 7),
      ],
      graphic: [
        txt(30, 27, 'GEFS-12Z-UPD: 17-03-2026 22:00', { size: 13.5, sx: 0.83, family: '"DejaVu Sans"', fill: '#f4f400', stroke: '#9a9a10', lw: 0.45 }),
        txt(32, 106, 'Temp. 850hPa', { sx: 0.73 }),
        txt(32, 188.3, 'Temp. 500hPa', { sx: 0.73 }),
        txt(32, 251.3, 'Précipitations', { sx: 0.76 }),
        txt(10, 307, '(°C)', { sx: 0.77 }),
        txt(0, 317, 'Alt. 162m', { sx: 0.9 }),
        txt(379, 308, '(mm)', { sx: 0.8 }),
        { type: 'line', shape: { x1: 19, y1: 322.7, x2: 37, y2: 322.7 }, style: { stroke: '#ff0000', lineWidth: 3 }, z: 100, silent: true },
        txt(40, 322.5, 'Moyenne des scénarios', { sx: 0.77 }),
        { type: 'line', shape: { x1: 120, y1: 321.7, x2: 139, y2: 321.7 }, style: { stroke: '#0000ff', lineWidth: 3 }, z: 100, silent: true },
        txt(142, 321.7, 'Run de contrôle', { sx: 0.77 }),
        { type: 'line', shape: { x1: 120, y1: 327.3, x2: 139, y2: 327.3 }, style: { stroke: '#000000', lineWidth: 3 }, z: 100, silent: true },
        txt(142, 327.8, 'Run GFS', { sx: 0.77 }),
        txt(181, 330, '30 Perts.', { sx: 0.8 }),
        ...legendBoxes,
        txt(28, 333.5, '❄', { size: 9, sx: 1, family: '"DejaVu Sans"', fill: '#6cc8f0' }),
        txt(39, 333.5, 'Risque neige', { sx: 0.72 }),
        { type: 'rect', shape: { x: 10.5, y: 337.5, width: 191, height: 30 }, style: { fill: '#ffffff', stroke: '#000000', lineWidth: 1 }, z: 99, silent: true },
        txt(16, 344.5, 'Diagramme des ensembles GEFS sur 384h : 40.6N 22.9E', { bold: true, sx: 0.82 }),
        txt(16, 351.5, 'Températures 850hPa et 500hPa (°C) , précipitations (mm)', { sx: 0.69 }),
        txt(240, 340.5, 'Ensemble GEFS du 17/03/2026 - 12Z', { sx: 0.76 }),
        txt(240, 350, 'Copyright 2026 Meteociel.fr', { bold: true, sx: 0.77 }),
      ],
    };

    chart.setOption(option);
    return () => chart.dispose();
  }, []);

  return <div ref={ref} style={{ position: 'absolute', left: 0, top: 0, width: 395, height: 355, background: '#fff' }} />;
}
